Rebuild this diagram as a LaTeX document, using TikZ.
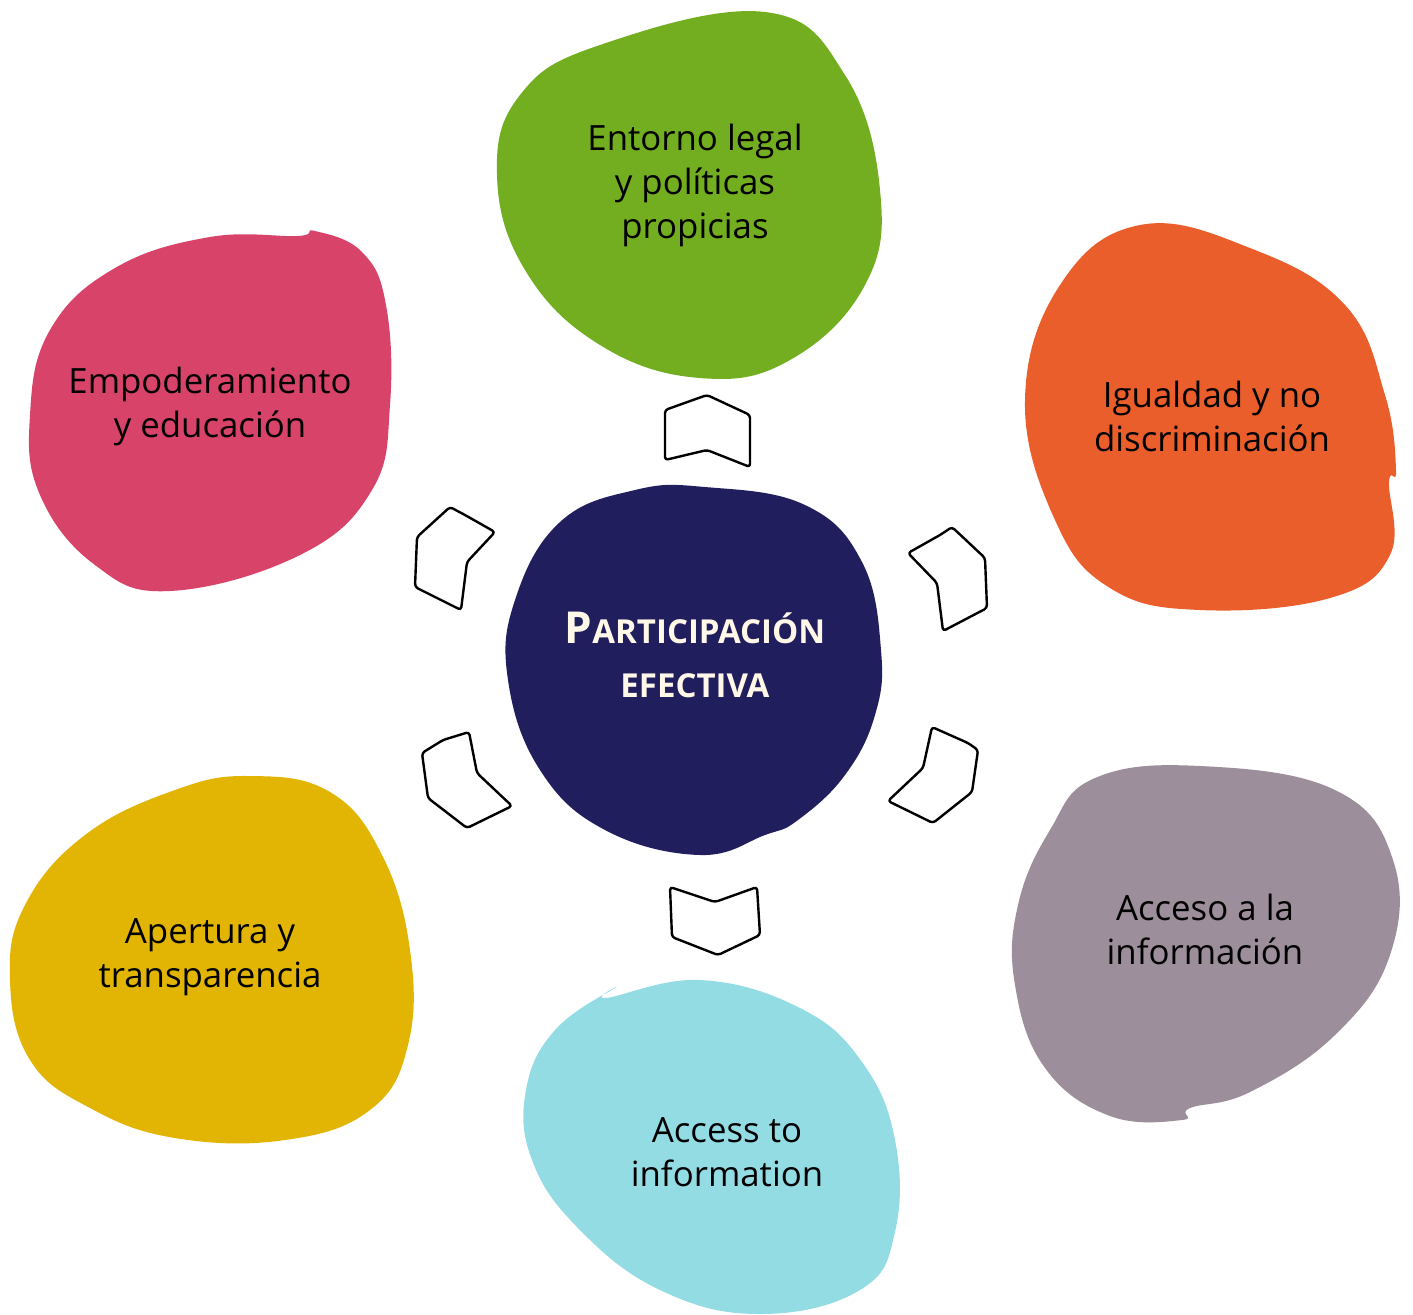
\documentclass[tikz,border=0pt]{standalone}
\usepackage{fontspec}
\setmainfont{Open Sans}
\usepackage{tikz}
\usetikzlibrary{positioning}

\definecolor{verde}{RGB}{114,174,32}
\definecolor{naranja}{RGB}{233,94,43}
\definecolor{rosa}{RGB}{216,67,105}
\definecolor{marino}{RGB}{33,30,94}
\definecolor{gris}{RGB}{156,142,154}
\definecolor{celeste}{RGB}{147,220,228}
\definecolor{mostaza}{RGB}{226,181,5}
\definecolor{crema}{RGB}{255,248,232}

\begin{document}
\begin{tikzpicture}[x=0.5pt,y=0.5pt,yscale=-1,
  chev/.style={draw=black,line width=1.2pt,line join=round,fill=white,rounded corners=1.5pt},
  lbl/.style={align=center,font=\fontsize{17.4}{22}\selectfont,text=black}]
  \useasboundingbox (0,0) rectangle (1413,1314);

  % blobs
  \fill [verde] plot [smooth cycle,tension=0.7] coordinates {(497,175) (520,95) (600,45) (765,12) (845,75) (880,190) (865,285) (790,360) (700,378) (600,345) (525,270)};
  \fill [naranja] plot [smooth cycle,tension=0.7] coordinates {(1025,400) (1060,285) (1140,225) (1250,248) (1345,305) (1385,395) (1396,470) (1389,482) (1390,555) (1330,598) (1200,610) (1110,588) (1055,520)};
  \fill [rosa] plot [smooth cycle,tension=0.7] coordinates {(210,237) (298,236) (315,231) (362,252) (386,305) (390,405) (372,490) (300,555) (170,591) (95,565) (40,495) (30,415) (50,330) (115,268)};
  \fill [marino] plot [smooth cycle,tension=0.7] coordinates {(705,487) (805,505) (862,562) (881,650) (875,715) (845,775) (798,820) (765,835) (700,855) (605,830) (540,770) (508,680) (515,600) (560,522) (635,490)};
  \fill [gris] plot [smooth cycle,tension=0.7] coordinates {(1095,778) (1200,766) (1335,790) (1393,860) (1390,955) (1335,1035) (1250,1092) (1190,1108) (1182,1120) (1110,1116) (1045,1068) (1015,985) (1018,905) (1050,830)};
  \fill [celeste] plot [smooth cycle,tension=0.7] coordinates {(615,988) (606,998) (700,980) (800,1008) (862,1062) (895,1140) (895,1232) (860,1290) (760,1314) (660,1290) (578,1228) (532,1160) (526,1090) (555,1030)};
  \fill [mostaza] plot [smooth cycle,tension=0.7] coordinates {(85,835) (175,790) (250,776) (330,792) (382,855) (410,950) (408,1045) (370,1110) (285,1140) (175,1138) (90,1108) (30,1060) (10,980) (25,905)};

  % chevrons
  \draw [chev] (665,410) -- (707,395) -- (750,415) -- (750,467) -- (707,450) -- (665,460) -- cycle;
  \draw [chev] (670,887) -- (715,902) -- (757,887) -- (760,935) -- (718,955) -- (672,937) -- cycle;
  \draw [chev] (417,537) -- (450,507) -- (465,515) -- (495,532) -- (467,562) -- (461,610) -- (415,587) -- cycle;
  \draw [chev] (908,553) -- (940,535) -- (952,527) -- (985,558) -- (987,608) -- (943,631) -- (937,583) -- cycle;
  \draw [chev] (932,727) -- (968,743) -- (978,750) -- (972,792) -- (933,823) -- (888,801) -- (923,768) -- cycle;
  \draw [chev] (422,753) -- (443,740) -- (469,732) -- (477,773) -- (512,806) -- (467,828) -- (428,798) -- cycle;

  % labels
  \node [lbl] (legal) at (695,185) {Entorno legal\\y políticas\\propicias};
  \node [lbl] (igualdad) at (1212,416) {Igualdad y no\\discriminación};
  \node [lbl] (empod) at (210,406) {Empoderamiento\\y educación};
  \node [lbl] (acceso) at (1205,929) {Acceso a la\\información};
  \node [lbl] (access) at (727,1152) {Access to\\information};
  \node [lbl] (apertura) at (210,957) {Apertura y\\transparencia};
  \node [align=center,text=crema,font=\bfseries\fontsize{16.5}{27}\selectfont] (centro) at (695,655)
    {{\fontsize{22}{27}\selectfont P}ARTICIPACIÓN\\EFECTIVA};

\end{tikzpicture}
\end{document}
